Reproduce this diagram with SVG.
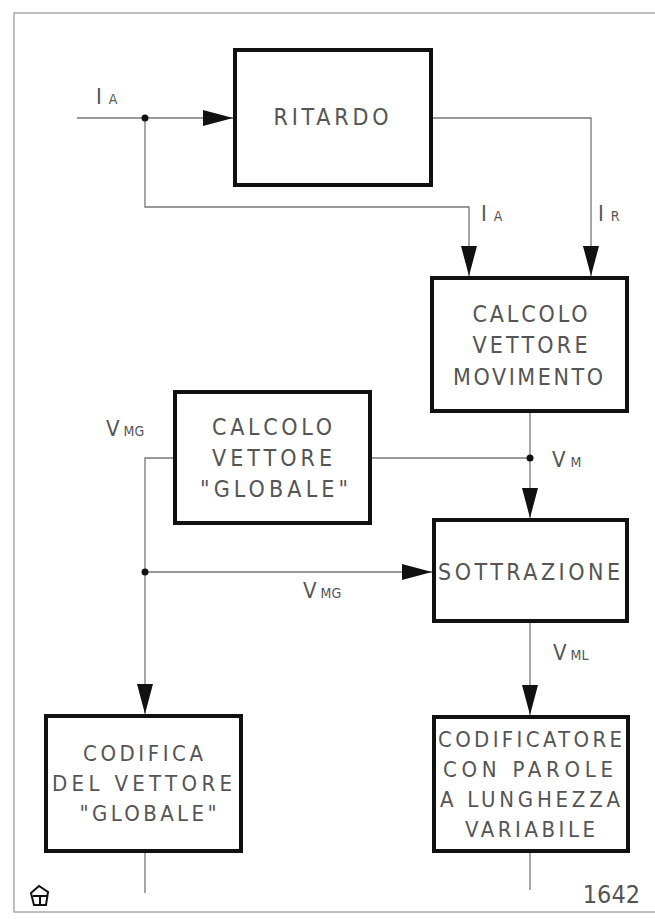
<svg xmlns="http://www.w3.org/2000/svg" width="655" height="919" viewBox="0 0 655 919">
<style>
.box{fill:#fff;stroke:#111;stroke-width:4}
.t{font-family:"Liberation Sans Narrow","DejaVu Sans Condensed","Liberation Sans",sans-serif;font-size:23px;fill:#555;text-anchor:middle}
.t2{font-family:"Liberation Sans Narrow","DejaVu Sans Condensed","Liberation Sans",sans-serif;font-size:22px;fill:#555;text-anchor:middle}
.lbl{font-family:"Liberation Sans Narrow","DejaVu Sans Condensed","Liberation Sans",sans-serif;font-size:22px;fill:#555}
.sub{font-size:14px}
.ln{fill:none;stroke:#777;stroke-width:1.3}
.frame{fill:none;stroke:#aaa;stroke-width:1.5}
.dot{fill:#111}
</style>
<defs>
<marker id="ah" markerWidth="30" markerHeight="16" refX="30" refY="8" orient="auto" markerUnits="userSpaceOnUse">
<path d="M0,0 L30,8 L0,16 z" fill="#111"/>
</marker>
</defs>
<rect width="655" height="919" fill="#fff"/>
<path class="frame" d="M655,13 H14 V912 H655"/>

<g id="connectors">
<path class="ln" d="M77,118 H233" marker-end="url(#ah)"/>
<path class="ln" d="M145,118 V207 H469 V276" marker-end="url(#ah)"/>
<path class="ln" d="M433,118 H591 V276" marker-end="url(#ah)"/>
<path class="ln" d="M530,413 V518" marker-end="url(#ah)"/>
<path class="ln" d="M372,458 H530"/>
<path class="ln" d="M173,458 H145 V714" marker-end="url(#ah)"/>
<path class="ln" d="M145,572 H432" marker-end="url(#ah)"/>
<path class="ln" d="M530,623 V715" marker-end="url(#ah)"/>
<path class="ln" d="M145,853 V893"/>
<path class="ln" d="M530,853 V890"/>
<circle class="dot" cx="145" cy="118" r="3.5"/>
<circle class="dot" cx="530" cy="458" r="3.5"/>
<circle class="dot" cx="145" cy="572" r="3.5"/>
</g>

<g id="labels">
<text class="lbl" x="96" y="104">I<tspan class="sub" dx="7">A</tspan></text>
<text class="lbl" x="481" y="221">I<tspan class="sub" dx="7">A</tspan></text>
<text class="lbl" x="598" y="221">I<tspan class="sub" dx="7">R</tspan></text>
<text class="lbl" x="106" y="436">V<tspan class="sub" dx="4">MG</tspan></text>
<text class="lbl" x="552" y="467">V<tspan class="sub" dx="5">M</tspan></text>
<text class="lbl" x="303" y="598">V<tspan class="sub" dx="4">MG</tspan></text>
<text class="lbl" x="553" y="660">V<tspan class="sub" dx="4">ML</tspan></text>
</g>

<g id="ritardo">
<rect class="box" x="235" y="50" width="196" height="135"/>
<text class="t" x="331" y="125" textLength="115" lengthAdjust="spacing">RITARDO</text>
</g>

<g id="calcolo-movimento">
<rect class="box" x="432" y="278" width="195" height="133"/>
<text class="t" x="530" y="322" textLength="115" lengthAdjust="spacing">CALCOLO</text>
<text class="t" x="530" y="353" textLength="115" lengthAdjust="spacing">VETTORE</text>
<text class="t" x="528" y="385" textLength="150" lengthAdjust="spacing">MOVIMENTO</text>
</g>

<g id="calcolo-globale">
<rect class="box" x="175" y="392" width="195" height="131"/>
<text class="t" x="272" y="435" textLength="120" lengthAdjust="spacing">CALCOLO</text>
<text class="t" x="272" y="466" textLength="120" lengthAdjust="spacing">VETTORE</text>
<text class="t" x="274" y="497" textLength="148" lengthAdjust="spacing">"GLOBALE"</text>
</g>

<g id="sottrazione">
<rect class="box" x="434" y="520" width="193" height="101"/>
<text class="t" x="529" y="580" textLength="182" lengthAdjust="spacing">SOTTRAZIONE</text>
</g>

<g id="codificatore">
<rect class="box" x="434" y="717" width="194" height="134"/>
<text class="t2" x="530" y="747" textLength="184" lengthAdjust="spacing">CODIFICATORE</text>
<text class="t2" x="528" y="777" textLength="170" lengthAdjust="spacing">CON PAROLE</text>
<text class="t2" x="530" y="807" textLength="180" lengthAdjust="spacing">A LUNGHEZZA</text>
<text class="t2" x="530" y="837" textLength="130" lengthAdjust="spacing">VARIABILE</text>
</g>

<g id="codifica">
<rect class="box" x="46" y="716" width="195" height="135"/>
<text class="t2" x="143" y="761" textLength="120" lengthAdjust="spacing">CODIFICA</text>
<text class="t2" x="142" y="791" textLength="180" lengthAdjust="spacing">DEL VETTORE</text>
<text class="t2" x="148" y="821" textLength="137" lengthAdjust="spacing">"GLOBALE"</text>
</g>

<g id="footer">
<path d="M31,893 L39,886 L48,892 L46,905 L34,905 Z M33,896 H47 M40,896 V906" fill="none" stroke="#111" stroke-width="2"/>
<text class="lbl" x="640" y="903" text-anchor="end" style="font-size:25px">1642</text>
</g>
</svg>
